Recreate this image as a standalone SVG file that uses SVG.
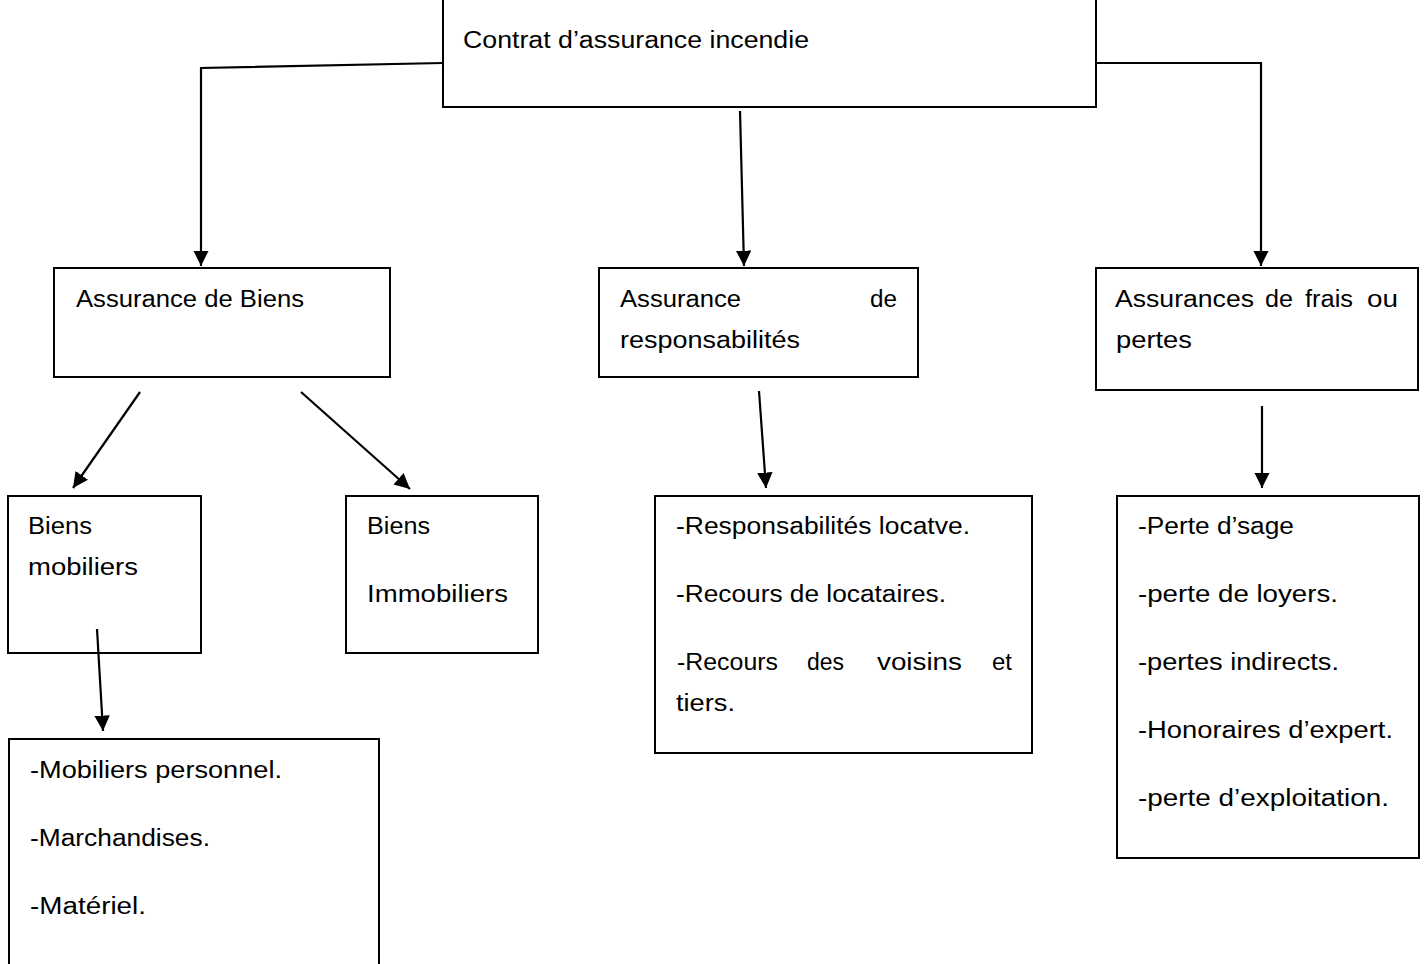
<svg xmlns="http://www.w3.org/2000/svg" width="1424" height="964" viewBox="0 0 1424 964">
<style>
rect.n{fill:#fff;stroke:#000;stroke-width:2}
text{font-family:"Liberation Sans","Open Sans",Arial,sans-serif;font-size:23px;fill:#000}
.c line,.c polyline{stroke:#000;stroke-width:2.2;fill:none}
</style>
<defs>
<marker id="ah" viewBox="0 0 10 10" refX="10" refY="5" markerWidth="7" markerHeight="7" markerUnits="strokeWidth" orient="auto">
<path d="M0,0 L10,5 L0,10 Z" fill="#000"/>
</marker>
</defs>
<rect width="1424" height="964" fill="#fff"/>
<g id="n-contrat"><rect class="n" x="443" y="-3" width="653" height="110"/><text x="463" y="48" textLength="346" lengthAdjust="spacingAndGlyphs">Contrat d’assurance incendie</text></g>
<g id="n-biens"><rect class="n" x="54" y="268" width="336" height="109"/><text x="76" y="307" textLength="228" lengthAdjust="spacingAndGlyphs">Assurance de Biens</text></g>
<g id="n-resp"><rect class="n" x="599" y="268" width="319" height="109"/><text x="620" y="307" textLength="121" lengthAdjust="spacingAndGlyphs">Assurance</text><text x="870" y="307" textLength="27" lengthAdjust="spacingAndGlyphs">de</text><text x="620" y="348" textLength="180" lengthAdjust="spacingAndGlyphs">responsabilités</text></g>
<g id="n-frais"><rect class="n" x="1096" y="268" width="322" height="122"/><text x="1115" y="307" textLength="139" lengthAdjust="spacingAndGlyphs">Assurances</text><text x="1265" y="307" textLength="28" lengthAdjust="spacingAndGlyphs">de</text><text x="1305" y="307" textLength="48" lengthAdjust="spacingAndGlyphs">frais</text><text x="1367" y="307" textLength="31" lengthAdjust="spacingAndGlyphs">ou</text><text x="1116" y="348" textLength="76" lengthAdjust="spacingAndGlyphs">pertes</text></g>
<g id="n-mob"><rect class="n" x="8" y="496" width="193" height="157"/><text x="28" y="534" textLength="64" lengthAdjust="spacingAndGlyphs">Biens</text><text x="28" y="575" textLength="110" lengthAdjust="spacingAndGlyphs">mobiliers</text></g>
<g id="n-immob"><rect class="n" x="346" y="496" width="192" height="157"/><text x="367" y="534" textLength="63" lengthAdjust="spacingAndGlyphs">Biens</text><text x="367" y="602" textLength="141" lengthAdjust="spacingAndGlyphs">Immobiliers</text></g>
<g id="n-resplist"><rect class="n" x="655" y="496" width="377" height="257"/>
<text x="676" y="534" textLength="294" lengthAdjust="spacingAndGlyphs">-Responsabilités locatve.</text>
<text x="676" y="602" textLength="270" lengthAdjust="spacingAndGlyphs">-Recours de locataires.</text>
<text x="677" y="670" textLength="101" lengthAdjust="spacingAndGlyphs">-Recours</text>
<text x="807" y="670" textLength="37" lengthAdjust="spacingAndGlyphs">des</text>
<text x="877" y="670" textLength="85" lengthAdjust="spacingAndGlyphs">voisins</text>
<text x="992" y="670" textLength="20" lengthAdjust="spacingAndGlyphs">et</text>
<text x="676" y="711" textLength="59" lengthAdjust="spacingAndGlyphs">tiers.</text></g>
<g id="n-pertes"><rect class="n" x="1117" y="496" width="302" height="362"/>
<text x="1138" y="534" textLength="156" lengthAdjust="spacingAndGlyphs">-Perte d’sage</text>
<text x="1138" y="602" textLength="200" lengthAdjust="spacingAndGlyphs">-perte de loyers.</text>
<text x="1138" y="670" textLength="201" lengthAdjust="spacingAndGlyphs">-pertes indirects.</text>
<text x="1138" y="738" textLength="255" lengthAdjust="spacingAndGlyphs">-Honoraires d’expert.</text>
<text x="1138" y="806" textLength="251" lengthAdjust="spacingAndGlyphs">-perte d’exploitation.</text></g>
<g id="n-moblist"><rect class="n" x="9" y="739" width="370" height="240"/>
<text x="30" y="778" textLength="252" lengthAdjust="spacingAndGlyphs">-Mobiliers personnel.</text>
<text x="30" y="846" textLength="180" lengthAdjust="spacingAndGlyphs">-Marchandises.</text>
<text x="30" y="914" textLength="116" lengthAdjust="spacingAndGlyphs">-Matériel.</text></g>
<g class="c" id="connectors">
<polyline points="443,63 201,68 201,266" marker-end="url(#ah)"/>
<line x1="740" y1="111" x2="744" y2="266" marker-end="url(#ah)"/>
<polyline points="1096,63 1261,63 1261,266" marker-end="url(#ah)"/>
<line x1="140" y1="392" x2="73" y2="488" marker-end="url(#ah)"/>
<line x1="301" y1="392" x2="410" y2="489" marker-end="url(#ah)"/>
<line x1="759" y1="391" x2="766" y2="488" marker-end="url(#ah)"/>
<line x1="1262" y1="406" x2="1262" y2="488" marker-end="url(#ah)"/>
<line x1="97" y1="629" x2="103" y2="731" marker-end="url(#ah)"/>
</g>
</svg>
